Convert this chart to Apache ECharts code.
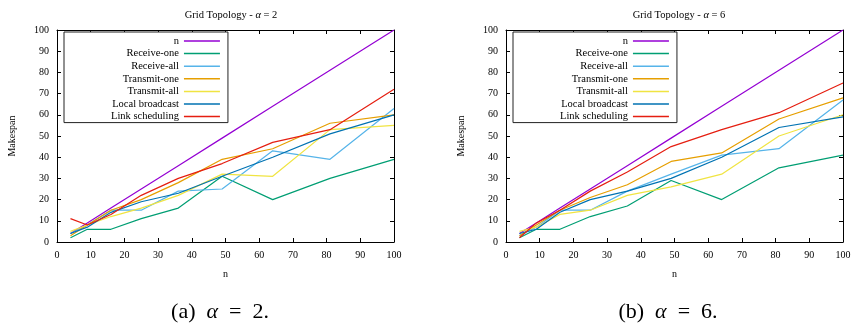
<!DOCTYPE html>
<html><head><meta charset="utf-8">
<script src="https://cdn.jsdelivr.net/npm/echarts@6/dist/echarts.min.js"></script>
<style>html,body{margin:0;padding:0;background:#fff}#c{width:855px;height:324px}</style>
</head><body><div id="c"></div>
<script>
// ---- data ----
const nValues = [4, 9, 16, 25, 36, 49, 64, 81, 100];
const seriesNames = ['n', 'Receive-one', 'Receive-all', 'Transmit-one', 'Transmit-all', 'Local broadcast', 'Link scheduling'];

// alpha = 2
const nLineA2           = [4, 9, 16, 25, 36, 49, 64, 81, 100];
const receiveOneA2      = [2, 6, 6, 11, 16, 31, 20, 30, 39];
const receiveAllA2      = [4, 8, 15, 15, 24, 25, 43, 39, 63];
const transmitOneA2     = [3, 8, 15, 20, 28, 39, 44, 56, 60];
const transmitAllA2     = [5, 8, 12, 16, 22, 32, 31, 53, 55];
const localBroadcastA2  = [4, 7, 14, 19, 23, 31, 40, 51, 60];
const linkSchedulingA2  = [11, 8, 13, 22, 30, 37, 47, 53, 72];

// alpha = 6
const nLineA6           = [4, 9, 16, 25, 36, 49, 64, 81, 100];
const receiveOneA6      = [2, 6, 6, 12, 17, 29, 20, 35, 41];
const receiveAllA6      = [3, 7, 15, 15, 24, 32, 41, 44, 67];
const transmitOneA6     = [3, 8, 15, 21, 27, 38, 42, 58, 68];
const transmitAllA6     = [5, 7, 13, 15, 22, 26, 32, 50, 60];
const localBroadcastA6  = [4, 6, 14, 20, 24, 30, 40, 54, 59];
const linkSchedulingA6  = [2, 9, 15, 24, 33, 45, 53, 61, 75];

const titles = ['Grid Topology - {i|α} = 2', 'Grid Topology - {i|α} = 6'];
const captions = ['(a)  {i|α}  =  2.', '(b)  {i|α}  =  6.'];
const xAxisName = 'n';
const yAxisName = 'Makespan';

// ---- styling ----
const FONT = "'Liberation Serif','DejaVu Serif','Times New Roman',serif";
const colors = ['#9400d3', '#009e73', '#56b4e9', '#e69f00', '#f0e442', '#0072b2', '#e51e10'];
const panels = [
  { grid: { left: 57, right: 461, top: 30, bottom: 82 }, legendLeft: 64, titleX: 226, captionX: 215,
    data: [nLineA2, receiveOneA2, receiveAllA2, transmitOneA2, transmitAllA2, localBroadcastA2, linkSchedulingA2] },
  { grid: { left: 506, right: 12, top: 30, bottom: 82 }, legendLeft: 513, titleX: 674, captionX: 663,
    data: [nLineA6, receiveOneA6, receiveAllA6, transmitOneA6, transmitAllA6, localBroadcastA6, linkSchedulingA6] }
];

const axisLineStyle = { color: '#000', width: 1 };
const labelStyle = { fontFamily: FONT, fontSize: 10, color: '#000' };

const grids = [], xAxes = [], yAxes = [], series = [], legends = [], titleList = [];
panels.forEach((p, gi) => {
  grids.push(Object.assign({ containLabel: false }, p.grid));
  const baseX = { gridIndex: gi, type: 'value', min: 0, max: 100, interval: 10,
    axisLine: { show: true, onZero: false, lineStyle: axisLineStyle },
    axisTick: { show: true, inside: true, length: 4, lineStyle: axisLineStyle },
    splitLine: { show: false } };
  xAxes.push(Object.assign({}, baseX, { position: 'bottom',
    axisLabel: Object.assign({ margin: 8 }, labelStyle),
    name: xAxisName, nameLocation: 'middle', nameGap: 27,
    nameTextStyle: { fontFamily: FONT, fontSize: 10, color: '#000' } }));
  xAxes.push(Object.assign({}, baseX, { position: 'top', axisLabel: { show: false } }));
  yAxes.push(Object.assign({}, baseX, { position: 'left',
    axisLabel: Object.assign({ margin: 8 }, labelStyle),
    name: yAxisName, nameLocation: 'middle', nameGap: 40, nameRotate: 90,
    nameTextStyle: { fontFamily: FONT, fontSize: 10, color: '#000' } }));
  yAxes.push(Object.assign({}, baseX, { position: 'right', axisLabel: { show: false } }));

  seriesNames.forEach((name, si) => {
    series.push({
      type: 'line', name, xAxisIndex: gi * 2, yAxisIndex: gi * 2,
      symbol: 'none', showSymbol: false,
      lineStyle: { width: 1.2, color: colors[si] }, itemStyle: { color: colors[si] },
      data: nValues.map((x, k) => [x, p.data[si][k]])
    });
  });

  legends.push({
    data: seriesNames, orient: 'vertical', align: 'right',
    left: p.legendLeft, top: 32,
    padding: [3.5, 8, 0.5, 47], itemGap: 1.6, itemWidth: 36, itemHeight: 1.5,
    icon: 'rect',
    borderColor: '#222', borderWidth: 1, backgroundColor: '#fff',
    selectedMode: false,
    textStyle: { fontFamily: FONT, fontSize: 10.5, color: '#000', lineHeight: 11 }
  });

  titleList.push({
    text: titles[gi], left: p.titleX, top: 5, textAlign: 'center',
    textStyle: { fontFamily: FONT, fontSize: 10.5, fontWeight: 'normal', color: '#000',
      rich: { i: { fontFamily: FONT, fontSize: 10.5, fontStyle: 'italic', color: '#000' } } }
  });
  titleList.push({
    text: captions[gi], left: p.captionX, top: 296, textAlign: 'center',
    textStyle: { fontFamily: FONT, fontSize: 22, fontWeight: 'normal', color: '#000',
      rich: { i: { fontFamily: FONT, fontSize: 22, fontStyle: 'italic', color: '#000' } } }
  });
});

const chart = echarts.init(document.getElementById('c'), null, { renderer: 'canvas' });
chart.setOption({
  animation: false,
  backgroundColor: '#fff',
  color: colors,
  title: titleList,
  grid: grids,
  xAxis: xAxes,
  yAxis: yAxes,
  legend: legends,
  series
});
</script>
</body></html>
